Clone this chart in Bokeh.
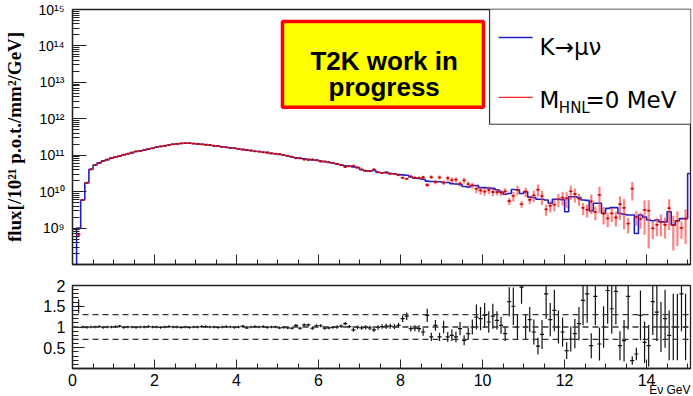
import math
import numpy as np
from bokeh.plotting import figure
from bokeh.layouts import column
from bokeh.models import (ColumnDataSource, FixedTicker, CustomJSTickFormatter,
                          Label, BoxAnnotation, Span, Range1d, Title)
from bokeh.embed import file_html
from bokeh.resources import INLINE

# ---- binning -------------------------------------------------------------
bin_width = 0.1
n_bins = 150
nan = float("nan")

# K -> mu nu flux per 0.1 GeV bin, log10 of flux [/1e21 p.o.t./mm^2/GeV]
blue_log10 = [
    nan, 9.00, 9.77, 10.24, 10.61, 10.73, 10.79, 10.84, 10.88, 10.92,
    10.95, 10.98, 11.01, 11.04, 11.07, 11.10, 11.12, 11.14, 11.17, 11.19,
    11.22, 11.24, 11.26, 11.28, 11.30, 11.31, 11.32, 11.33, 11.33, 11.32,
    11.31, 11.30, 11.29, 11.28, 11.26, 11.25, 11.23, 11.22, 11.20, 11.19,
    11.17, 11.16, 11.14, 11.13, 11.11, 11.10, 11.08, 11.07, 11.05, 11.04,
    11.02, 11.00, 10.98, 10.95, 10.93, 10.91, 10.90, 10.89, 10.87, 10.87,
    10.84, 10.82, 10.80, 10.78, 10.76, 10.74, 10.71, 10.70, 10.68, 10.66,
    10.60, 10.57, 10.56, 10.58, 10.53, 10.52, 10.53, 10.50, 10.49, 10.47,
    10.46, 10.45, 10.40, 10.37, 10.36, 10.34, 10.29, 10.28, 10.28, 10.27,
    10.25, 10.25, 10.22, 10.21, 10.20, 10.14, 10.13, 10.17, 10.17, 10.11,
    10.11, 10.10, 10.09, 10.05, 9.99, 9.93, 9.95, 10.06, 10.05, 9.95,
    10.00, 9.85, 9.84, 9.79, 9.79, 9.77, 9.68, 9.79, 9.79, 9.78,
    9.45, 9.86, 9.86, 9.84, 9.77, 9.76, 9.47, 9.68, 9.68, 9.40,
    9.54, 9.56, 9.56, 9.40, 9.38, 9.36, 9.36, 8.85, 9.36, 9.30,
    9.22, 9.20, 9.22, 9.17, 9.17, 9.45, 9.08, 9.20, 9.26, 9.26,
]
overflow_log10 = 10.50  # bin above 15 GeV

# ratio K->mu nu / HNL(0 MeV) per bin, with its uncertainty
ratio = [
    nan, 1.50, 1.00, 0.99, 1.00, 1.00, 1.01, 0.99, 1.00, 1.00,
    1.01, 1.02, 0.99, 1.00, 1.00, 0.99, 1.00, 1.00, 1.01, 1.00,
    1.00, 0.99, 1.00, 1.01, 1.00, 1.00, 0.99, 1.00, 0.99, 1.00,
    1.00, 1.01, 1.01, 1.00, 1.00, 0.99, 1.00, 1.01, 1.00, 0.99,
    1.00, 1.02, 0.98, 1.00, 1.01, 1.00, 1.01, 0.99, 1.00, 1.00,
    0.98, 0.99, 0.98, 0.97, 1.04, 0.97, 1.05, 1.05, 0.97, 1.03,
    1.03, 0.97, 0.98, 0.99, 1.00, 1.02, 1.08, 1.01, 0.93, 0.99,
    0.98, 0.99, 0.98, 0.93, 0.99, 1.01, 1.02, 1.02, 1.01, 1.04,
    1.20, 1.26, 0.96, 0.97, 0.96, 0.88, 1.28, 0.76, 1.04, 0.76,
    1.00, 0.76, 0.80, 0.76, 0.96, 0.68, 0.84, 1.00, 1.24, 1.20,
    1.28, 1.12, 1.26, 1.16, 1.04, 0.84, 1.61, 1.50, 1.00, 1.96,
    1.00, 1.18, 0.88, 0.54, 0.82, 1.80, 1.18, 1.40, 1.00, 0.88,
    0.43, 0.71, 0.84, 1.08, 1.64, 1.80, 0.55, 1.74, 0.59, 1.00,
    1.88, 1.44, 1.86, 0.55, 0.67, 1.74, 0.19, 0.35, 1.28, 0.63,
    0.55, 1.61, 1.36, 1.00, 1.20, 0.80, 1.00, 1.00, 1.80, 1.00,
]
ratio_err = [
    nan, 0.17, 0.03, 0.03, 0.03, 0.03, 0.03, 0.03, 0.03, 0.03,
    0.03, 0.03, 0.03, 0.03, 0.03, 0.03, 0.03, 0.03, 0.03, 0.03,
    0.03, 0.03, 0.03, 0.03, 0.03, 0.03, 0.03, 0.03, 0.03, 0.03,
    0.03, 0.03, 0.03, 0.03, 0.03, 0.03, 0.03, 0.03, 0.03, 0.03,
    0.03, 0.03, 0.03, 0.03, 0.03, 0.03, 0.03, 0.03, 0.03, 0.03,
    0.03, 0.03, 0.03, 0.03, 0.035, 0.035, 0.035, 0.035, 0.035, 0.035,
    0.035, 0.035, 0.035, 0.035, 0.04, 0.04, 0.04, 0.04, 0.045, 0.045,
    0.045, 0.05, 0.05, 0.05, 0.055, 0.055, 0.06, 0.06, 0.06, 0.065,
    0.08, 0.09, 0.07, 0.07, 0.08, 0.09, 0.16, 0.10, 0.13, 0.10,
    0.15, 0.12, 0.14, 0.13, 0.16, 0.12, 0.15, 0.18, 0.30, 0.28,
    0.30, 0.26, 0.30, 0.22, 0.20, 0.18, 0.35, 0.45, 0.30, 0.40,
    0.30, 0.30, 0.30, 0.20, 0.35, 0.60, 0.40, 0.50, 0.40, 0.35,
    0.20, 0.30, 0.35, 0.40, 0.60, 0.70, 0.30, 0.70, 0.40, 0.50,
    0.80, 0.60, 0.80, 0.35, 0.50, 0.80, 0.10, 0.15, 0.60, 0.50,
    0.50, 0.80, 0.70, 0.60, 0.70, 0.60, 0.80, 0.80, 0.90, 0.80,
]

x_major = [0, 2, 4, 6, 8, 10, 12, 14]
flux_decades = [1e9, 1e10, 1e11, 1e12, 1e13, 1e14, 1e15]
ratio_major = [0.5, 1.0, 1.5, 2.0]
ratio_guides = [0.7, 1.0, 1.3]

# ---- derived arrays ------------------------------------------------------
edges = np.arange(n_bins + 2) * bin_width            # includes overflow edge
centers = (np.arange(n_bins) + 0.5) * bin_width
blue = 10.0 ** np.array(blue_log10 + [overflow_log10])
floor = 1e6
blue_drawn = np.where(np.isfinite(blue), blue, floor)
step_x = np.repeat(edges, 2)[1:-1]
step_y = np.repeat(blue_drawn, 2)

r = np.array(ratio)
r_err = np.array(ratio_err)
ok = np.isfinite(r)
red = blue[:n_bins][ok] / r[ok]
red_err = red * r_err[ok] / r[ok]
c_ok = centers[ok]

red_src = ColumnDataSource(dict(
    x=c_ok, x0=c_ok - bin_width / 2, x1=c_ok + bin_width / 2,
    y=red, lo=np.maximum(red - red_err, floor), hi=red + red_err))
rat_src = ColumnDataSource(dict(
    x=c_ok, x0=c_ok - bin_width / 2, x1=c_ok + bin_width / 2,
    y=r[ok], lo=r[ok] - r_err[ok], hi=r[ok] + r_err[ok]))

AX = "#222222"
SANS = "Liberation Sans"
LEG = "DejaVu Sans"
BLUE = "#2020c0"
RED = "#ff2020"


def style_frame(p):
    p.xgrid.visible = False
    p.ygrid.visible = False
    p.outline_line_color = AX
    p.outline_line_width = 1.3
    p.background_fill_color = "white"
    p.border_fill_color = "white"
    for ax in (p.xaxis[0], p.yaxis[0]):
        ax.axis_line_color = AX
        ax.axis_line_width = 1.3
        ax.major_tick_line_color = AX
        ax.minor_tick_line_color = AX
        ax.major_tick_out = 0
        ax.minor_tick_out = 0
        ax.major_label_text_font = SANS
        ax.major_label_text_color = "black"


# ---- upper panel: flux ---------------------------------------------------
top = figure(width=693, height=275, x_range=Range1d(0, 15.07),
             y_range=Range1d(1e8, 1e15), y_axis_type="log",
             output_backend="svg", toolbar_location=None,
             min_border_left=72, min_border_right=3,
             min_border_top=9, min_border_bottom=11)
style_frame(top)

x_minor = [v * 0.5 for v in range(0, 31) if (v * 0.5) % 2 != 0]
top.xaxis.ticker = FixedTicker(ticks=x_major, minor_ticks=x_minor)
top.xaxis.major_tick_in = 10
top.xaxis.minor_tick_in = 5
top.xaxis.major_label_overrides = {v: "" for v in x_major}
top.xaxis.major_label_standoff = 0

y_minor = [k * 10.0 ** d for d in range(8, 15) for k in range(2, 10)]
top.yaxis.ticker = FixedTicker(ticks=flux_decades, minor_ticks=y_minor)
top.yaxis.major_tick_in = 14
top.yaxis.minor_tick_in = 7
top.yaxis.major_label_text_font_size = "14px"
top.yaxis.major_label_standoff = 8
top.yaxis.formatter = CustomJSTickFormatter(code="""
    const sup = {'0':'\u2070','1':'\u00b9','2':'\u00b2','3':'\u00b3','4':'\u2074',
                 '5':'\u2075','6':'\u2076','7':'\u2077','8':'\u2078','9':'\u2079','-':'\u207b'};
    const e = Math.round(Math.log10(tick));
    return '10' + String(e).split('').map(c => sup[c]).join('');
""")
top.yaxis.axis_label = "flux[/10\u00b2\u00b9 p.o.t./mm\u00b2/GeV]"
top.yaxis.axis_label_text_font = "Liberation Serif"
top.yaxis.axis_label_text_font_style = "bold"
top.yaxis.axis_label_text_font_size = "19px"
top.yaxis.axis_label_text_color = "black"
top.yaxis.axis_label_standoff = 10

top.line(step_x, step_y, line_color=BLUE, line_width=1.6)
top.segment(x0="x0", x1="x1", y0="y", y1="y", source=red_src,
            line_color=RED, line_width=1.3, line_alpha=0.85)
top.segment(x0="x", x1="x", y0="lo", y1="hi", source=red_src,
            line_color="#ff3030", line_width=2.2, line_alpha=0.6)
top.scatter(x="x", y="y", source=red_src, marker="square", size=1.8,
            fill_color="#b00000", line_color=None)

# work-in-progress box
top.add_layout(BoxAnnotation(left=5.12, right=10.02, bottom=10 ** 12.32, top=10 ** 14.67,
                             fill_color="#ffff00", fill_alpha=1.0,
                             line_color="#ff0000", line_width=3.5, line_alpha=1.0))
for txt, yy in (("T2K work in", 13.60), ("progress", 12.86)):
    top.add_layout(Label(x=7.60, y=10 ** yy, text=txt, text_align="center",
                         text_baseline="alphabetic", text_font=SANS,
                         text_font_style="bold", text_font_size="26px",
                         text_color="black"))

# legend
top.add_layout(BoxAnnotation(left=10.17, right=15.3, bottom=10 ** 11.85, top=10 ** 15.2,
                             fill_color="white", fill_alpha=1.0,
                             line_color="#333333", line_width=1.2, line_alpha=1.0))
top.line([10.39, 11.22], [10 ** 14.23, 10 ** 14.23], line_color=BLUE,
         line_width=1.6, level="overlay")
top.line([10.39, 11.22], [10 ** 12.59, 10 ** 12.59], line_color=RED,
         line_width=1.3, level="overlay")
top.add_layout(Label(x=11.39, y=10 ** 13.97, text="K\u2192\u03bc\u03bd", text_font=LEG,
                     text_font_size="23px", text_baseline="alphabetic", text_color="black"))
top.add_layout(Label(x=11.39, y=10 ** 12.51, text="M", text_font=LEG,
                     text_font_size="23px", text_baseline="alphabetic", text_color="black"))
top.add_layout(Label(x=11.86, y=10 ** 12.29, text="HNL", text_font=LEG,
                     text_font_size="15px", text_baseline="alphabetic", text_color="black"))
top.add_layout(Label(x=12.51, y=10 ** 12.51, text="=0 MeV", text_font=LEG,
                     text_font_size="23px", text_baseline="alphabetic", text_color="black"))

# ---- lower panel: ratio --------------------------------------------------
bot = figure(width=693, height=121, x_range=top.x_range, y_range=Range1d(0, 2),
             output_backend="svg", toolbar_location=None,
             min_border_left=72, min_border_right=3,
             min_border_top=10, min_border_bottom=28)
style_frame(bot)
bot.xaxis.ticker = FixedTicker(ticks=x_major, minor_ticks=x_minor)
bot.xaxis.major_tick_in = 9
bot.xaxis.minor_tick_in = 5
bot.xaxis.major_label_text_font_size = "16px"
bot.xaxis.major_label_standoff = 5

# energy axis title, right-aligned under the tick labels
bot.add_layout(Title(text="E\u03bd GeV", align="right", text_font=SANS,
                     text_font_style="normal", text_font_size="12px",
                     text_color="black", standoff=-15), "below")

bot.yaxis.ticker = FixedTicker(ticks=ratio_major,
                               minor_ticks=[round(v * 0.1, 1) for v in range(1, 20)])
bot.yaxis.major_tick_in = 12
bot.yaxis.minor_tick_in = 6
bot.yaxis.major_label_text_font_size = "16px"
bot.yaxis.major_label_standoff = 7

for g in ratio_guides:
    bot.add_layout(Span(location=g, dimension="width", line_color="#333333",
                        line_dash="6 4", line_width=1.3))

bot.segment(x0="x0", x1="x1", y0="y", y1="y", source=rat_src,
            line_color="#111111", line_width=1.2)
bot.segment(x0="x", x1="x", y0="lo", y1="hi", source=rat_src,
            line_color="#111111", line_width=1.2)

page = column(top, bot, spacing=0)
open("out.html", "w").write(file_html(page, INLINE))
